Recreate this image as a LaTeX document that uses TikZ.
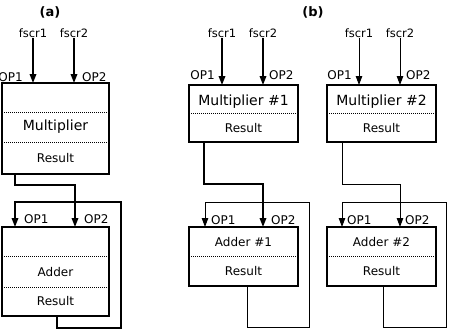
\documentclass[tikz,border=0pt]{standalone}
\usepackage{fontspec}
\setmainfont{DejaVu Sans}
\usetikzlibrary{arrows.meta}
\tikzset{
  box/.style={draw, line width=1.6pt, inner sep=0pt, outer sep=0pt},
  thk/.style={line width=1.8pt},
  thn/.style={line width=0.9pt},
  arr/.style={-{Triangle[length=9pt,width=6.5pt]}},
  dots/.style={line width=1pt, dash pattern=on 1pt off 1pt},
  inlbl/.style={font=\fontsize{11.5}{12}\selectfont, inner sep=0pt},
  oplbl/.style={font=\fontsize{12}{13}\selectfont, inner sep=0pt},
  bigtxt/.style={font=\fontsize{14}{15}\selectfont, inner sep=0pt},
  midtxt/.style={font=\fontsize{12}{13}\selectfont, inner sep=0pt},
  ttl/.style={font=\bfseries\fontsize{13}{14}\selectfont, inner sep=0pt},
}
\begin{document}
\begin{tikzpicture}[x=1pt,y=-1pt]
\useasboundingbox (0,0) rectangle (450,330);

% titles
\node[ttl] (ta) at (50,12) {(a)};
\node[ttl] (tb) at (313,12) {(b)};

% ---------- (a) ----------
\node[box, minimum width=107pt, minimum height=91pt] (mulA) at (55.5,128.5) {};
\node[box, minimum width=107pt, minimum height=89pt] (addA) at (55.5,271.5) {};
\draw[dots] (mulA.west |- 0,112) -- (mulA.east |- 0,112);
\draw[dots] (mulA.west |- 0,142) -- (mulA.east |- 0,142);
\draw[dots] (addA.west |- 0,256) -- (addA.east |- 0,256);
\draw[dots] (addA.west |- 0,287) -- (addA.east |- 0,287);
\node[bigtxt] (mulAt) at (55.5,127) {Multiplier};
\node[midtxt] (mulAr) at (55.5,158) {Result};
\node[midtxt] (addAt) at (55.5,272) {Adder};
\node[midtxt] (addAr) at (55.5,301) {Result};

\node[inlbl] (fa1) at (33,33) {fscr1};
\node[inlbl] (fa2) at (74,33) {fscr2};
\draw[thk,arr] (fa1.south) -- (fa1.south |- mulA.north);
\draw[thk,arr] (fa2.south) -- (fa2.south |- mulA.north);
\node[oplbl, anchor=east] (mAop1) at (23,77) {OP1};
\node[oplbl, anchor=west] (mAop2) at (82,77) {OP2};

\coordinate (addAin1) at (15,227);
\coordinate (addAin2) at (75,227);
\draw[thk,arr] (mulA.south -| addAin1) -- ++(0,11) -| (addAin2);
\draw[thk,arr] (addA.south -| 57,0) -- ++(0,12) -| (121,202) -| (addAin1);
\node[oplbl, anchor=west] (aAop1) at (24,219) {OP1};
\node[oplbl, anchor=west] (aAop2) at (84,219) {OP2};

% ---------- (b) #1 ----------
\node[box, minimum width=109pt, minimum height=57pt] (mul1) at (243.5,113.5) {};
\node[box, minimum width=109pt, minimum height=59pt] (add1) at (243.5,256.5) {};
\draw[dots] (mul1.west |- 0,113) -- (mul1.east |- 0,113);
\draw[dots] (add1.west |- 0,256) -- (add1.east |- 0,256);
\node[bigtxt] (mul1t) at (243.5,102) {Multiplier \#1};
\node[midtxt] (mul1r) at (243.5,128) {Result};
\node[oplbl] (add1t) at (243.5,242) {Adder \#1};
\node[midtxt] (add1r) at (243.5,271) {Result};

\node[inlbl] (f11) at (222,33) {fscr1};
\node[inlbl] (f12) at (263,33) {fscr2};
\draw[thk,arr] (f11.south) -- (f11.south |- mul1.north);
\draw[thk,arr] (f12.south) -- (f12.south |- mul1.north);
\node[oplbl, anchor=east] (m1op1) at (215,75) {OP1};
\node[oplbl, anchor=west] (m1op2) at (269,75) {OP2};

\coordinate (add1in1) at (205,227);
\coordinate (add1in2) at (263,227);
\draw[thk,arr] (mul1.south -| 204,0) -- ++(0,42) -| (add1in2);
\draw[thn,arr] (add1.south -| 247,0) -- ++(0,41) -| (309,202) -| (add1in1);
\node[oplbl, anchor=west] (a1op1) at (211,220) {OP1};
\node[oplbl, anchor=west] (a1op2) at (271,220) {OP2};

% ---------- (b) #2 ----------
\node[box, minimum width=109pt, minimum height=57pt] (mul2) at (381.5,113.5) {};
\node[box, minimum width=109pt, minimum height=59pt] (add2) at (381.5,256.5) {};
\draw[dots] (mul2.west |- 0,113) -- (mul2.east |- 0,113);
\draw[dots] (add2.west |- 0,256) -- (add2.east |- 0,256);
\node[bigtxt] (mul2t) at (381.5,102) {Multiplier \#2};
\node[midtxt] (mul2r) at (381.5,128) {Result};
\node[oplbl] (add2t) at (381.5,242) {Adder \#2};
\node[midtxt] (add2r) at (381.5,271) {Result};

\node[inlbl] (f21) at (359,33) {fscr1};
\node[inlbl] (f22) at (400,33) {fscr2};
\draw[thn,arr] (f21.south) -- (f21.south |- mul2.north);
\draw[thn,arr] (f22.south) -- (f22.south |- mul2.north);
\node[oplbl, anchor=east] (m2op1) at (352,75) {OP1};
\node[oplbl, anchor=west] (m2op2) at (406,75) {OP2};

\coordinate (add2in1) at (342,227);
\coordinate (add2in2) at (400,227);
\draw[thn,arr] (mul2.south -| 342,0) -- ++(0,42) -| (add2in2);
\draw[thn,arr] (add2.south -| 383,0) -- ++(0,41) -| (446,202) -| (add2in1);
\node[oplbl, anchor=west] (a2op1) at (347,220) {OP1};
\node[oplbl, anchor=west] (a2op2) at (405,220) {OP2};
\end{tikzpicture}
\end{document}
